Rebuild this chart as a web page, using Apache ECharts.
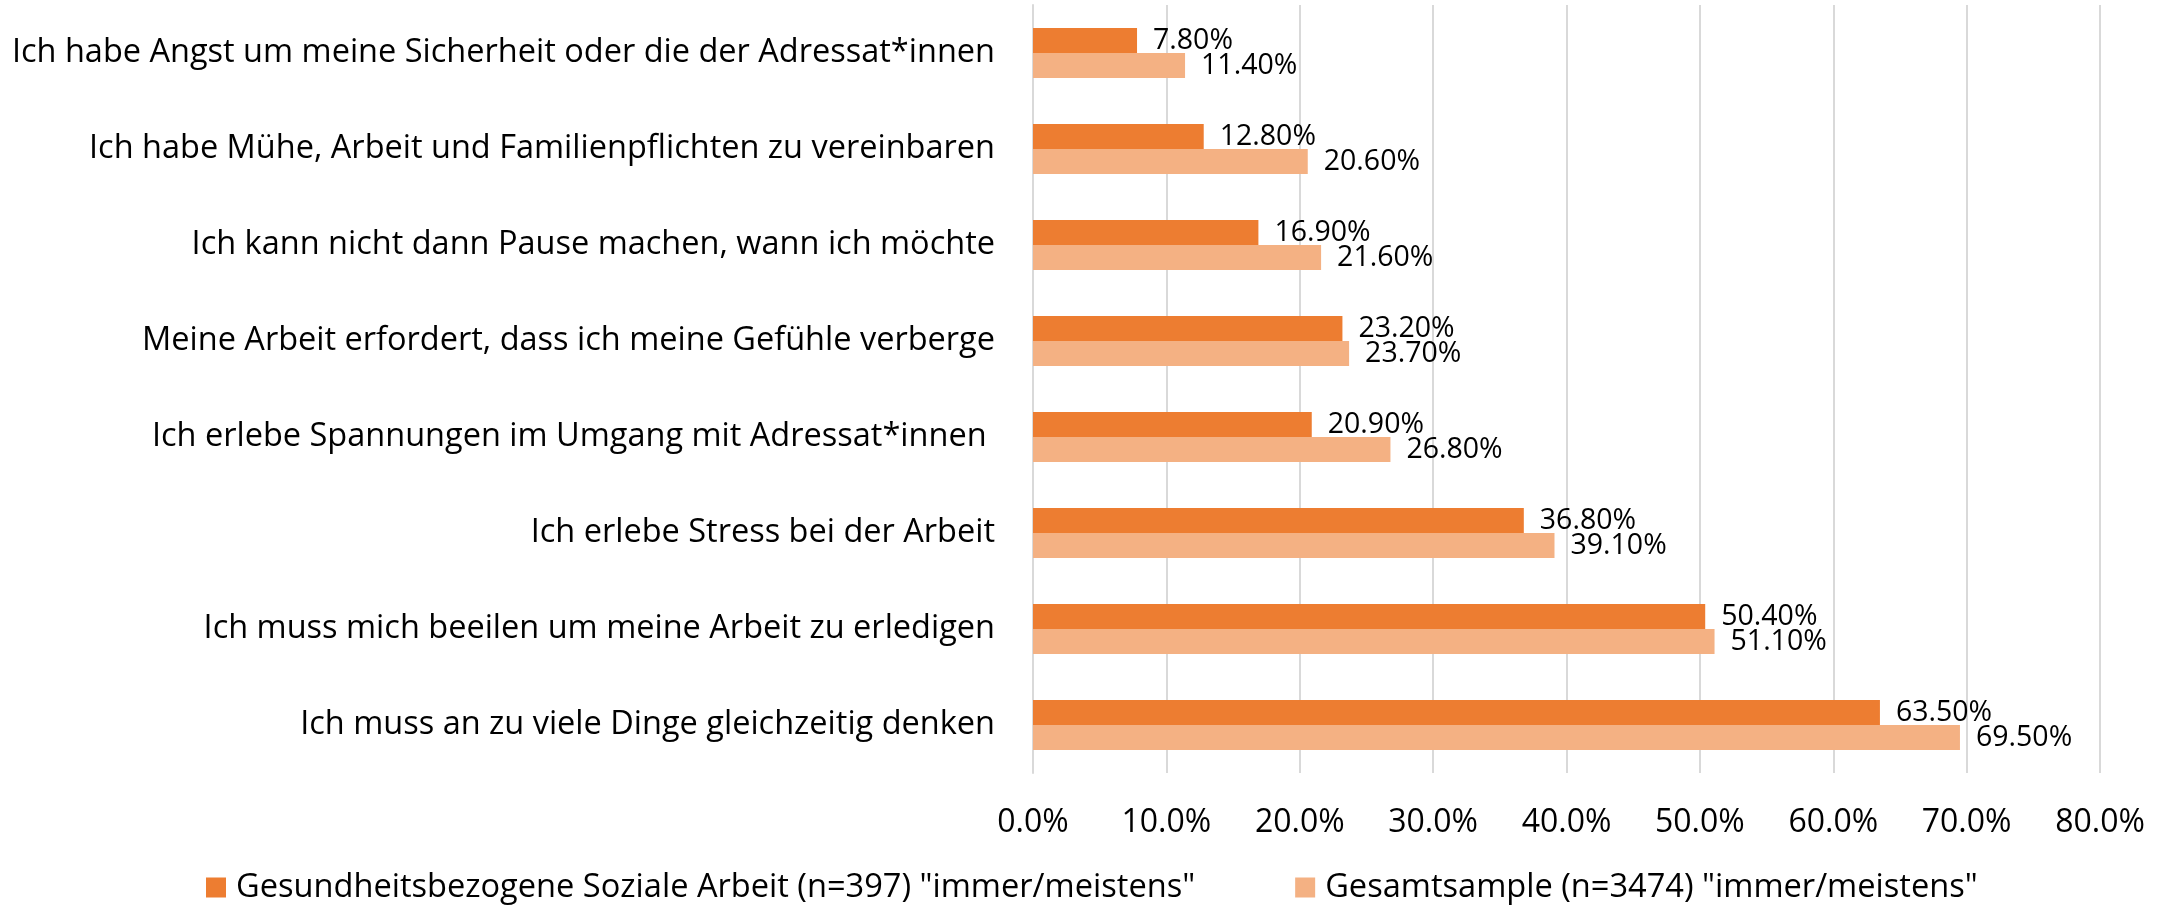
<!DOCTYPE html>
<html>
<head>
<meta charset="utf-8">
<script src="https://cdn.jsdelivr.net/npm/echarts@6/dist/echarts.min.js"></script>
<style>
  html, body { margin: 0; padding: 0; background: #fff; }
  #chart_container { width: 2172px; height: 906px; }
</style>
</head>
<body>
<div id="chart_container"></div>
<script>
// Kategorien (von oben nach unten)
const categories = [
  'Ich habe Angst um meine Sicherheit oder die der Adressat*innen',
  'Ich habe Mühe, Arbeit und Familienpflichten zu vereinbaren',
  'Ich kann nicht dann Pause machen, wann ich möchte',
  'Meine Arbeit erfordert, dass ich meine Gefühle verberge',
  'Ich erlebe Spannungen im Umgang mit Adressat*innen ',
  'Ich erlebe Stress bei der Arbeit',
  'Ich muss mich beeilen um meine Arbeit zu erledigen',
  'Ich muss an zu viele Dinge gleichzeitig denken',
];

const seriesNames = [
  'Gesundheitsbezogene Soziale Arbeit (n=397) "immer/meistens"',
  'Gesamtsample (n=3474) "immer/meistens"',
];

const valuesSozialeArbeit = [7.8, 12.8, 16.9, 23.2, 20.9, 36.8, 50.4, 63.5];
const valuesGesamt = [11.4, 20.6, 21.6, 23.7, 26.8, 39.1, 51.1, 69.5];

const xTicks = [0, 10, 20, 30, 40, 50, 60, 70, 80];

const colors = ['#ED7D31', '#F4B183'];
const fontFamily = '"Open Sans", Lato, sans-serif';

function createOption() {
  const labelStyle = {
    show: true,
    position: 'right',
    distance: 16,
    color: '#000',
    fontFamily: fontFamily,
    fontSize: 28.5,
    formatter: (p) => p.value.toFixed(2) + '%',
  };

  return {
    backgroundColor: '#fff',
    animation: false,
    color: colors,
    grid: {
      left: 1033,
      right: 72,
      top: 5,
      bottom: 133,
      containLabel: false,
    },
    legend: {
      data: seriesNames,
      left: 201,
      top: 866,
      itemWidth: 20,
      itemHeight: 20,
      itemGap: 100,
      icon: 'rect',
      textStyle: {
        color: '#000',
        fontFamily: fontFamily,
        fontSize: 32.6,
        padding: [0, 0, 0, 5],
      },
    },
    xAxis: {
      type: 'value',
      min: xTicks[0],
      max: xTicks[xTicks.length - 1],
      interval: 10,
      axisLine: { show: false },
      axisTick: { show: false },
      splitLine: { lineStyle: { color: '#D9D9D9', width: 2 } },
      axisLabel: {
        margin: 34,
        color: '#000',
        fontFamily: fontFamily,
        fontSize: 32,
        formatter: (v) => v.toFixed(1) + '%',
      },
    },
    yAxis: {
      type: 'category',
      data: categories,
      inverse: true,
      axisLine: { show: true, lineStyle: { color: '#D9D9D9', width: 2 } },
      axisTick: { show: false },
      axisLabel: {
        margin: 38,
        color: '#000',
        fontFamily: fontFamily,
        fontSize: 32.5,
      },
    },
    series: [
      {
        name: seriesNames[0],
        type: 'bar',
        data: valuesSozialeArbeit,
        barWidth: 25,
        barGap: '0%',
        label: labelStyle,
      },
      {
        name: seriesNames[1],
        type: 'bar',
        data: valuesGesamt,
        barWidth: 25,
        barGap: '0%',
        label: labelStyle,
      },
    ],
  };
}

const myChart = echarts.init(document.getElementById('chart_container'));
myChart.setOption(createOption());
</script>
</body>
</html>
